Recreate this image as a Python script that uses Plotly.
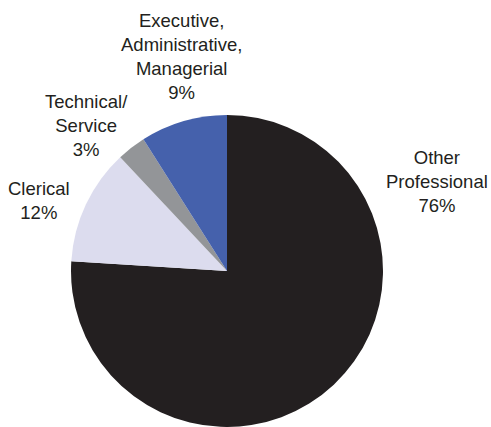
import plotly.graph_objects as go

# Workforce composition by occupational group (percent of staff)
categories = ["Other Professional", "Clerical", "Technical/ Service",
              "Executive, Administrative, Managerial"]
label_lines = [["Other", "Professional"],
               ["Clerical"],
               ["Technical/", "Service"],
               ["Executive,", "Administrative,", "Managerial"]]
shares = [76, 12, 3, 9]

colors = ["#231f20", "#dcdcee", "#939598", "#4561ac"]
text_color = "#231f20"

W, H = 491, 427
cx, cy, r = 227, 271, 156  # pie centre and radius in pixels

# label centres (pixels from top-left) for each slice's callout text
label_pos = [(437, 181), (39, 200), (86, 125), (181, 56)]

fig = go.Figure(go.Pie(
    labels=categories,
    values=shares,
    sort=False,
    direction="clockwise",
    rotation=0,
    textinfo="none",
    hoverinfo="label+percent",
    marker=dict(colors=colors, line=dict(width=0)),
    domain=dict(x=[(cx - r) / W, (cx + r) / W], y=[0, 2 * r / H]),
    showlegend=False,
))

for lines, val, (px, py) in zip(label_lines, shares, label_pos):
    fig.add_annotation(
        x=px / W, y=1 - py / H, xref="paper", yref="paper",
        text="<br>".join(lines + [f"{val}%"]),
        showarrow=False, xanchor="center", yanchor="middle", align="center",
        font=dict(family="Arial, Liberation Sans, sans-serif", size=18.5, color=text_color),
    )

fig.update_layout(
    width=W, height=H,
    margin=dict(l=0, r=0, t=0, b=0),
    paper_bgcolor="white",
    plot_bgcolor="white",
)

fig.write_html("out.html")
